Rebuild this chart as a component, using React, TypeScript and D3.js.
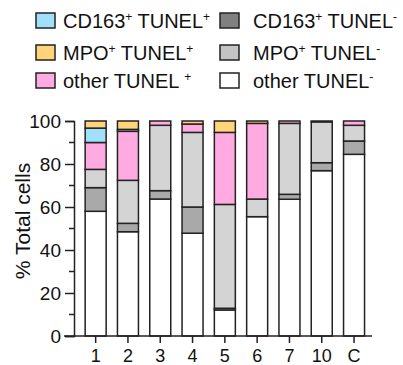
import { useRef, useEffect } from "react";
import * as d3 from "d3";

const categories = ["1", "2", "3", "4", "5", "6", "7", "10", "C"];
const otherNeg = [58, 48.5, 63.7, 47.8, 12.1, 55.5, 63.6, 76.9, 84.5];
const cd163Neg = [11, 3.9, 3.9, 12.2, 0.8, 0, 2.3, 3.7, 6.2];
const mpoNeg = [8.5, 20, 30.4, 34.7, 48.3, 8.2, 33, 19, 7.3];
const otherPos = [12.5, 22.8, 2, 3.9, 33.5, 35.2, 1.1, 0.4, 2];
const cd163Pos = [6.7, 0.9, 0, 0, 0, 0, 0, 0, 0];
const mpoPos = [3.3, 3.9, 0, 1.4, 5.3, 1.1, 0, 0, 0];

const seriesKeys = ["otherNeg", "cd163Neg", "mpoNeg", "otherPos", "cd163Pos", "mpoPos"];
const seriesValues = [otherNeg, cd163Neg, mpoNeg, otherPos, cd163Pos, mpoPos];
const barColors = ["#ffffff", "#a9a9a9", "#d4d4d4", "#ffaae0", "#a0e0fa", "#ffd47a"];
const yTicks = [0, 20, 40, 60, 80, 100];
const yMinorTicks = [10, 30, 50, 70, 90];

// legend entries: [color, main text, superscript, column, row]
const legendItems: [string, string, string, number, number][] = [
  ["#a0e0fa", "CD163", "+ TUNEL|+", 0, 0],
  ["#808080", "CD163", "+ TUNEL|-", 1, 0],
  ["#ffd47a", "MPO", "+ TUNEL|+", 0, 1],
  ["#c4c4c4", "MPO", "+ TUNEL|-", 1, 1],
  ["#ffaae0", "other TUNEL ", "|+", 0, 2],
  ["#ffffff", "other TUNEL", "|-", 1, 2],
];

const FONT = "Arial, 'Liberation Sans', sans-serif";

export default function App() {
  const gRef = useRef(null);

  useEffect(() => {
    const svg = d3.select(gRef.current);
    svg.selectAll("*").remove();

    const x = d3.scaleBand().domain(categories).range([79.5, 370.2]).paddingInner(0.35).paddingOuter(0.175);
    const y = d3.scaleLinear().domain([0, 100]).range([336, 121]);

    const table = categories.map((c, i) => {
      const row: any = { cat: c };
      seriesKeys.forEach((k, j) => (row[k] = seriesValues[j][i]));
      return row;
    });
    const stacked = d3.stack().keys(seriesKeys)(table);

    // bars
    stacked.forEach((layer: any, j) => {
      svg
        .append("g")
        .selectAll("rect")
        .data(layer.filter((d: any) => d[1] - d[0] > 0))
        .join("rect")
        .attr("x", (d: any) => x(d.data.cat))
        .attr("y", (d: any) => y(d[1]))
        .attr("width", x.bandwidth())
        .attr("height", (d: any) => y(d[0]) - y(d[1]))
        .attr("fill", barColors[j])
        .attr("stroke", "#222")
        .attr("stroke-width", 1.5);
    });

    // y axis
    const yAxis = svg
      .append("g")
      .attr("transform", "translate(74,0)")
      .call(d3.axisLeft(y).tickValues(yTicks).tickSize(9).tickPadding(4));
    yAxis.select(".domain").attr("stroke", "#222").attr("stroke-width", 1.5);
    yAxis.selectAll(".tick line").attr("stroke", "#222").attr("stroke-width", 1.5);
    yAxis.selectAll(".tick text").attr("font-size", 19).attr("font-family", FONT).attr("fill", "#111");
    svg
      .append("g")
      .selectAll("line")
      .data(yMinorTicks)
      .join("line")
      .attr("x1", 69)
      .attr("x2", 74)
      .attr("y1", (d) => y(d))
      .attr("y2", (d) => y(d))
      .attr("stroke", "#222")
      .attr("stroke-width", 1.5);

    // x axis
    svg
      .append("line")
      .attr("x1", 64)
      .attr("x2", 372)
      .attr("y1", 336)
      .attr("y2", 336)
      .attr("stroke", "#222")
      .attr("stroke-width", 1.5);
    const xt = svg
      .append("g")
      .selectAll("g")
      .data(categories)
      .join("g")
      .attr("transform", (d) => `translate(${(x(d) as number) + x.bandwidth() / 2},336)`);
    xt.append("line").attr("y2", 7).attr("stroke", "#222").attr("stroke-width", 1.5);
    xt.append("text")
      .attr("y", 26)
      .attr("text-anchor", "middle")
      .attr("font-size", 18)
      .attr("font-family", FONT)
      .attr("fill", "#111")
      .text((d) => d);

    // y label
    svg
      .append("text")
      .attr("transform", "translate(30,221) rotate(-90)")
      .attr("text-anchor", "middle")
      .attr("font-size", 21)
      .attr("font-family", FONT)
      .attr("fill", "#111")
      .text("% Total cells");

    // legend
    const colX = [36, 220];
    const rowY = [13, 45, 73];
    legendItems.forEach(([color, main, sup, col, row]) => {
      const g = svg.append("g").attr("transform", `translate(${colX[col]},${rowY[row]})`);
      g.append("rect")
        .attr("width", 19)
        .attr("height", 15)
        .attr("fill", color)
        .attr("stroke", "#222")
        .attr("stroke-width", 1.5);
      const t = g
        .append("text")
        .attr("x", col === 0 ? 27 : 33)
        .attr("y", 15)
        .attr("font-size", 20)
        .attr("font-family", FONT)
        .attr("fill", "#111");
      const [a, b] = sup.split("|");
      if (a.trim()) {
        t.append("tspan").text(main);
        t.append("tspan").attr("font-size", 12).attr("dy", -7).text("+");
        t.append("tspan").attr("dy", 7).text(" TUNEL");
      } else {
        t.append("tspan").text(main);
      }
      t.append("tspan").attr("font-size", 12).attr("dy", -7).text(b);
    });
  }, []);

  return (
    <svg width={403} height={365} style={{ position: "absolute", left: 0, top: 0 }}>
      <g ref={gRef}></g>
    </svg>
  );
}
